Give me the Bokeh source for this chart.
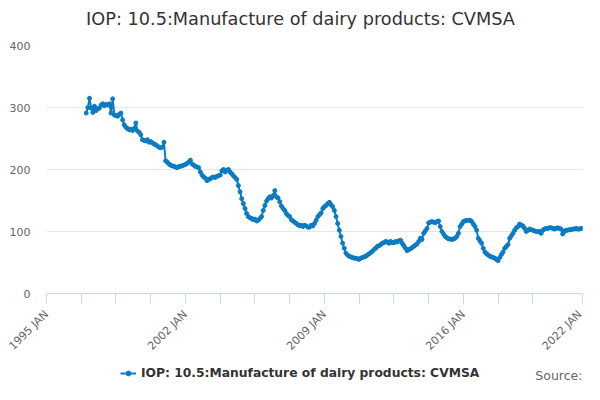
import math
import pandas as pd
from bokeh.plotting import figure
from bokeh.layouts import column
from bokeh.models import (ColumnDataSource, FixedTicker, Range1d, Legend, LegendItem, Label)
from bokeh.embed import file_html
from bokeh.resources import INLINE

TITLE = "IOP: 10.5:Manufacture of dairy products: CVMSA"
SERIES = "IOP: 10.5:Manufacture of dairy products: CVMSA"
SOURCE = "Source:"
START = "1997-01"

values = [
    # 1997
    291, 300, 315, 299, 292, 302, 295, 298, 299, 304, 306, 303,
    # 1998
    305, 304, 306, 291, 314, 288, 287, 286, 289, 291, 280, 272,
    # 1999
    268, 266, 264, 265, 263, 266, 275, 262, 260, 256, 248, 247,
    # 2000
    246, 248, 244, 245, 243, 241, 240, 238, 236, 235, 236, 244,
    # 2001
    214, 212, 209, 207, 206, 205, 204, 203, 205, 205, 206, 207,
    # 2002
    208, 210, 212, 215, 209, 207, 205, 204, 203, 196, 191, 188,
    # 2003
    186, 182, 184, 185, 187, 188, 187, 189, 190, 191, 198, 200,
    # 2004
    196, 199, 200, 196, 193, 190, 187, 184, 174, 164, 153, 145,
    # 2005
    137, 129, 124, 122, 121, 119, 120, 117, 118, 121, 124, 134,
    # 2006
    142, 149, 153, 156, 154, 158, 166, 156, 154, 148, 141, 137,
    # 2007
    134, 129, 126, 124, 119, 117, 115, 113, 111, 109, 110, 108,
    # 2008
    110, 109, 107, 107, 110, 109, 113, 118, 124, 127, 130, 137,
    # 2009
    140, 142, 145, 147, 143, 140, 134, 124, 113, 102, 92, 81,
    # 2010
    73, 65, 62, 60, 59, 58, 57, 57, 56, 55, 57, 58,
    # 2011
    59, 60, 62, 64, 66, 68, 71, 73, 76, 77, 79, 81,
    # 2012
    82, 84, 83, 81, 84, 82, 82, 84, 83, 85, 86, 81,
    # 2013
    77, 73, 69, 71, 72, 74, 76, 78, 80, 84, 89, 87,
    # 2014
    97, 101, 105, 114, 115, 116, 115, 114, 116, 117, 108, 100,
    # 2015
    96, 92, 90, 88, 88, 87, 88, 89, 92, 97, 108, 112,
    # 2016
    116, 117, 118, 118, 118, 116, 112, 108, 102, 89, 85, 81,
    # 2017
    73, 67, 64, 62, 60, 59, 58, 57, 55, 53, 58, 63,
    # 2018
    67, 73, 76, 79, 89, 93, 97, 102, 106, 108, 112, 110,
    # 2019
    109, 105, 100, 102, 104, 103, 102, 101, 100, 100, 100, 97,
    # 2020
    102, 104, 105, 105, 106, 106, 105, 104, 105, 106, 105, 104,
    # 2021
    96, 100, 102, 102, 103, 103, 104, 104, 105, 104, 104, 105,
    # 2022
    105,
]

x_label_ticks = ["1995-01", "2002-01", "2009-01", "2016-01", "2022-01"]
x_minor_ticks = ["1996-10", "1998-07", "2000-04", "2003-10", "2005-07", "2007-04",
                 "2010-10", "2012-07", "2014-04", "2017-10", "2019-07"]
y_ticks = [0, 100, 200, 300, 400]


def month_index(d):
    d = pd.Timestamp(d)
    return (d.year - 1995) * 12 + d.month - 1


dates = pd.date_range(START, periods=len(values), freq="MS")
xs = [month_index(d) for d in dates]
src = ColumnDataSource(dict(x=xs, y=values))

FONT = "DejaVu Sans"
COLOR = "#0b7bc4"
W = 584
TH, MH, LH = 39, 321, 24
xr = Range1d(month_index(x_label_ticks[0]), month_index(x_label_ticks[-1]))


def strip(height):
    f = figure(width=W, height=height, output_backend="svg", toolbar_location=None,
               x_range=xr, y_range=Range1d(0, height),
               x_axis_type=None, y_axis_type=None,
               min_border_left=0, min_border_right=0, min_border_top=0, min_border_bottom=0)
    f.outline_line_color = None
    f.xgrid.grid_line_color = None
    f.ygrid.grid_line_color = None
    f.background_fill_color = "white"
    f.border_fill_color = "white"
    return f


# ---------------- title strip ----------------
t = strip(TH)
t.add_layout(Label(x=254, y=21, x_units="screen", y_units="screen", text=TITLE,
                   text_align="center", text_baseline="middle", text_font=FONT,
                   text_font_size="17.7px", text_color="#333333"))

# ---------------- main chart ----------------
p = figure(width=W, height=MH, output_backend="svg", toolbar_location=None,
           x_range=xr, y_range=Range1d(0, 400),
           min_border_left=46, min_border_right=2, min_border_top=6, min_border_bottom=64)
p.title = None
p.outline_line_color = None
p.background_fill_color = "white"
p.border_fill_color = "white"

line_r = p.line("x", "y", source=src, line_color=COLOR, line_width=2)
dot_r = p.scatter("x", "y", source=src, size=4, fill_color=COLOR, line_color=COLOR)

xa = p.xaxis[0]
major = [month_index(tk) for tk in x_label_ticks]
xa.ticker = FixedTicker(ticks=major, minor_ticks=[month_index(tk) for tk in x_minor_ticks])
xa.major_label_overrides = {month_index(tk): pd.Timestamp(tk).strftime("%Y %b").upper() for tk in x_label_ticks}
xa.major_label_orientation = math.pi / 4
xa.axis_line_color = "#ccd6eb"
xa.major_tick_line_color = "#ccd6eb"
xa.minor_tick_line_color = "#ccd6eb"
xa.major_tick_out = 10
xa.major_tick_in = 0
xa.minor_tick_out = 10
xa.minor_tick_in = 0
xa.major_label_text_font = FONT
xa.major_label_text_font_size = "11px"
xa.major_label_text_color = "#666666"
xa.major_label_standoff = 9

ya = p.yaxis[0]
ya.ticker = FixedTicker(ticks=y_ticks)
ya.axis_line_color = None
ya.major_tick_line_color = None
ya.minor_tick_line_color = None
ya.major_tick_out = 0
ya.major_tick_in = 0
ya.minor_tick_out = 0
ya.minor_tick_in = 0
ya.major_label_text_font = FONT
ya.major_label_text_font_size = "11px"
ya.major_label_text_color = "#666666"
ya.major_label_standoff = 16

p.xgrid.grid_line_color = None
p.ygrid.grid_line_color = "#e6e6e6"
p.ygrid.grid_line_width = 1

# ---------------- legend / source strip ----------------
q = strip(LH)
# the series drawn again here only to key the legend; it lies outside this strip's view
key_line = q.line("x", "y", source=src, line_color=COLOR, line_width=2)
key_dot = q.scatter("x", "y", source=src, size=4, fill_color=COLOR, line_color=COLOR)

legend = Legend(items=[LegendItem(label=SERIES, renderers=[key_line, key_dot])],
                location=(74, 4), orientation="horizontal",
                label_text_font=FONT, label_text_font_size="12.3px",
                label_text_font_style="bold", label_text_color="#333333",
                glyph_width=16, glyph_height=12, label_standoff=5,
                label_height=14, padding=0, margin=0, spacing=0,
                border_line_color=None, background_fill_alpha=0)
q.add_layout(legend, "center")

q.add_layout(Label(x=month_index(x_label_ticks[-1]), y=9, text=SOURCE,
                   text_align="right", text_baseline="middle",
                   text_font=FONT, text_font_size="12.5px", text_color="#666666"))

layout = column(t, p, q, spacing=0)
open("out.html", "w").write(file_html(layout, INLINE))
